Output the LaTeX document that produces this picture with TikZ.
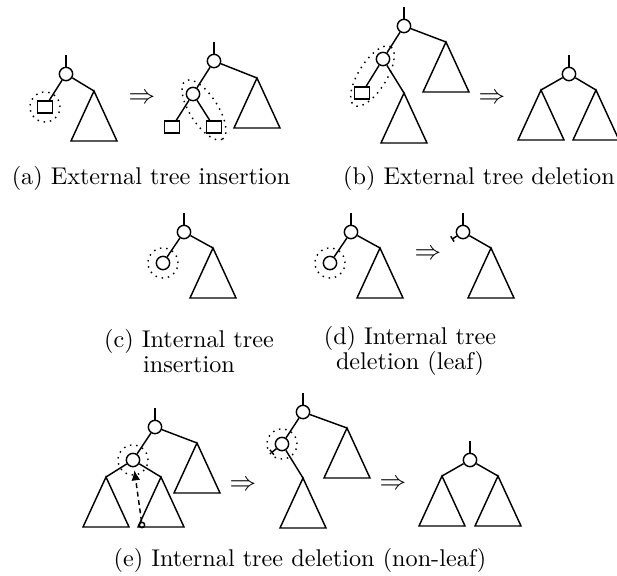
\documentclass[tikz,border=0pt]{standalone}
\usepackage{amsmath}
\usepackage{tikz}
\usetikzlibrary{shapes.geometric,arrows.meta}

\begin{document}
\begin{tikzpicture}[x=0.413pt, y=-0.413pt, line width=0.6pt,
  inode/.style={circle, draw, minimum size=5.5pt, inner sep=0pt},
  xleaf/.style={rectangle, draw, minimum width=6.2pt, minimum height=5pt, inner sep=0pt},
  ring/.style={circle, draw, dotted, minimum size=12.4pt, inner sep=0pt},
  oval/.style={ellipse, draw, dotted, minimum width=28.5pt, minimum height=11.6pt, inner sep=0pt},
  nil/.style={-{Bar[width=2.6pt]}},
  imp/.style={inner sep=0pt, scale=1.1}]
\useasboundingbox (0,0) rectangle (617,576);

% (a) external tree insertion
\node[inode] (a1r) at (66,74) {};
\node[xleaf] (a1l) at (45,107) {};
\node[ring] (a1o) at (45,107) {};
\coordinate (a1t) at (94,91);
\draw (a1r.north) -- ++(0,-12);
\draw (a1r) -- (a1l);
\draw (a1r) -- (a1t);
\node[imp] (impa) at (142,99) {$\Rightarrow$};
\node[inode] (a2r) at (214,61) {};
\node[inode] (a2i) at (193,94) {};
\node[xleaf] (a2l) at (172,127) {};
\node[xleaf] (a2x) at (214,127) {};
\coordinate (a2t) at (257,78);
\node[oval, rotate=-57.5] (a2o) at (204,110) {};
\draw (a2r.north) -- ++(0,-12);
\draw (a2r) -- (a2i);
\draw (a2r) -- (a2t);
\draw (a2i) -- (a2l);
\draw (a2i) -- (a2x);
\node (capa) at (151,178) {(a) External tree insertion};

% (b) external tree deletion
\node[inode] (b1r) at (404,26) {};
\node[inode] (b1i) at (383,59) {};
\node[xleaf] (b1l) at (362,93) {};
\coordinate (b1t) at (446,42);
\coordinate (b1u) at (404,93);
\node[oval, rotate=58] (b1o) at (372.5,76) {};
\draw (b1r.north) -- ++(0,-12);
\draw (b1r) -- (b1i);
\draw (b1r) -- (b1t);
\draw (b1i) -- (b1l);
\draw (b1i) -- (b1u);
\node[imp] (impb) at (492,99) {$\Rightarrow$};
\node[inode] (b2r) at (569,74) {};
\coordinate (b2l) at (541,90);
\coordinate (b2x) at (596,90);
\draw (b2r.north) -- ++(0,-12);
\draw (b2r) -- (b2l);
\draw (b2r) -- (b2x);
\node (capb) at (479,178) {(b) External tree deletion};

% (c) internal tree insertion
\node[inode] (c1r) at (184,232) {};
\node[inode] (c1l) at (163,263) {};
\node[ring] (c1o) at (163,263) {};
\coordinate (c1t) at (213,248);
\draw (c1r.north) -- ++(0,-12);
\draw (c1r) -- (c1l);
\draw (c1r) -- (c1t);
\node[align=center] (capc) at (189,351) {(c) Internal tree\\[-2pt] insertion};

% (d) internal tree deletion, leaf
\node[inode] (d1r) at (351,232) {};
\node[inode] (d1l) at (330,263) {};
\node[ring] (d1o) at (330,263) {};
\coordinate (d1t) at (380,248);
\draw (d1r.north) -- ++(0,-12);
\draw (d1r) -- (d1l);
\draw (d1r) -- (d1t);
\node[imp] (impd) at (428,255) {$\Rightarrow$};
\node[inode] (d2r) at (463,232) {};
\coordinate (d2t) at (491,248);
\draw (d2r.north) -- ++(0,-12);
\draw (d2r) -- (d2t);
\draw[nil] (d2r.213) -- ++(-5,3.3);
\node[align=center] (capd) at (410,351) {(d) Internal tree\\[-2pt] deletion (leaf)};

% (e) internal tree deletion, non-leaf
\node[inode] (e1r) at (155,427) {};
\node[inode] (e1i) at (133,460) {};
\node[ring] (e1o) at (133,460) {};
\coordinate (e1t) at (197,443);
\coordinate (e1l) at (106,477);
\coordinate (e1x) at (161,477);
\draw (e1r.north) -- ++(0,-12);
\draw (e1r) -- (e1i);
\draw (e1r) -- (e1t);
\draw (e1i) -- (e1l);
\draw (e1i) -- (e1x);
\node[circle, draw, minimum size=2.2pt, inner sep=0pt] (succ) at (142,525) {};
\draw[dash pattern=on 2pt off 1.5pt, -{Latex[length=4.2pt,width=3.6pt]}, shorten >=1.2pt] (succ) -- (e1i);
\node[imp] (impe1) at (243,486) {$\Rightarrow$};
\node[inode] (e2r) at (303,412) {};
\node[inode] (e2i) at (282,444) {};
\node[ring] (e2o) at (282,444) {};
\coordinate (e2t) at (347,428);
\coordinate (e2u) at (303,478);
\draw (e2r.north) -- ++(0,-12);
\draw (e2r) -- (e2i);
\draw (e2r) -- (e2t);
\draw (e2i) -- (e2u);
\draw[nil] (e2i.220) -- ++(-5,4);
\node[imp] (impe2) at (393,485) {$\Rightarrow$};
\node[inode] (e3r) at (470,460) {};
\coordinate (e3l) at (442,476);
\coordinate (e3x) at (498,476);
\draw (e3r.north) -- ++(0,-12);
\draw (e3r) -- (e3l);
\draw (e3r) -- (e3x);
\node (cape) at (300,560) {(e) Internal tree deletion (non-leaf)};

% subtrees
\foreach \t in {a1t,a2t,b1t,b1u,b2l,b2x,c1t,d1t,d2t,e1t,e1l,e1x,e2t,e2u,e3l,e3x}
  \draw (\t) -- ++(-23,50) -- ++(46,0) -- cycle;
\end{tikzpicture}
\end{document}
